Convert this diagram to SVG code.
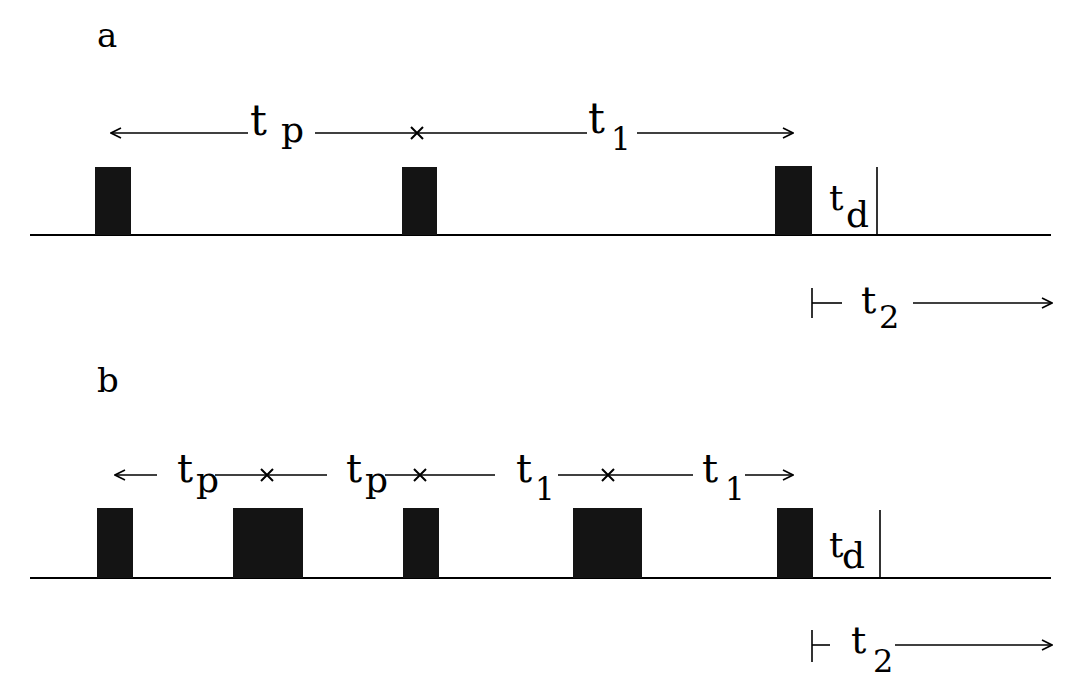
<svg xmlns="http://www.w3.org/2000/svg" width="1083" height="695" viewBox="0 0 1083 695">
<style>
.ln{stroke:#000;stroke-width:1.6;fill:none}
.x{stroke:#000;stroke-width:2;fill:none}
.base{stroke:#000;stroke-width:2;fill:none}
.pulse{fill:#141414}
.t{font-family:"DejaVu Serif","Liberation Serif",serif;fill:#000}
</style>
<defs>
<marker id="ah" viewBox="0 0 12 12" refX="11" refY="6" markerWidth="12" markerHeight="12" markerUnits="userSpaceOnUse" orient="auto-start-reverse">
<path d="M1,1 L11,6 L1,11" fill="none" stroke="#000" stroke-width="1.6"/>
</marker>
</defs>
<rect width="1083" height="695" fill="#fff"/>
<g id="panel-a">
<text class="t" x="97" y="47" font-size="34">a</text>
<line class="base" x1="30" y1="235" x2="1051" y2="235"/>
<rect id="a-pulse1" class="pulse" x="95" y="167" width="36" height="68"/>
<rect id="a-pulse2" class="pulse" x="402" y="167" width="35" height="68"/>
<rect id="a-pulse3" class="pulse" x="775" y="166" width="37" height="69"/>
<line class="ln" x1="877" y1="167" x2="877" y2="235"/>
<text class="t" x="829" y="210" font-size="36">t</text>
<text class="t" x="846" y="227" font-size="36">d</text>
</g>
<g id="connectors-a">
<line class="ln" x1="111" y1="133" x2="248" y2="133" marker-start="url(#ah)"/>
<line class="ln" x1="315" y1="133" x2="587" y2="133"/>
<line class="ln" x1="637" y1="133" x2="793" y2="133" marker-end="url(#ah)"/>
<path class="x" d="M411,127 L423,139 M411,139 L423,127"/>
<text class="t" x="250" y="135" font-size="42">t</text>
<text class="t" x="281" y="142" font-size="36">p</text>
<text class="t" x="588" y="133" font-size="42">t</text>
<text class="t" x="611" y="150" font-size="31">1</text>
<line class="ln" x1="812" y1="288" x2="812" y2="318"/>
<line class="ln" x1="812" y1="303" x2="842" y2="303"/>
<line class="ln" x1="913" y1="303" x2="1052" y2="303" marker-end="url(#ah)"/>
<text class="t" x="861" y="313" font-size="38">t</text>
<text class="t" x="879" y="328" font-size="32">2</text>
</g>
<g id="panel-b">
<text class="t" x="97" y="392" font-size="34">b</text>
<line class="base" x1="30" y1="578" x2="1051" y2="578"/>
<rect id="b-pulse1" class="pulse" x="97" y="508" width="36" height="70"/>
<rect id="b-pulse2" class="pulse" x="233" y="508" width="70" height="70"/>
<rect id="b-pulse3" class="pulse" x="403" y="508" width="36" height="70"/>
<rect id="b-pulse4" class="pulse" x="573" y="508" width="69" height="70"/>
<rect id="b-pulse5" class="pulse" x="777" y="508" width="36" height="70"/>
<line class="ln" x1="880" y1="510" x2="880" y2="578"/>
<text class="t" x="829" y="557" font-size="36">t</text>
<text class="t" x="842" y="568" font-size="36">d</text>
</g>
<g id="connectors-b">
<line class="ln" x1="115" y1="475" x2="157" y2="475" marker-start="url(#ah)"/>
<line class="ln" x1="215" y1="475" x2="327" y2="475"/>
<line class="ln" x1="385" y1="475" x2="495" y2="475"/>
<line class="ln" x1="558" y1="475" x2="693" y2="475"/>
<line class="ln" x1="745" y1="475" x2="793" y2="475" marker-end="url(#ah)"/>
<path class="x" d="M261,469 L273,481 M261,481 L273,469"/>
<path class="x" d="M414,469 L426,481 M414,481 L426,469"/>
<path class="x" d="M602,469 L614,481 M602,481 L614,469"/>
<text class="t" x="177" y="482" font-size="40">t</text>
<text class="t" x="196" y="492" font-size="36">p</text>
<text class="t" x="346" y="482" font-size="40">t</text>
<text class="t" x="365" y="492" font-size="36">p</text>
<text class="t" x="516" y="482" font-size="40">t</text>
<text class="t" x="535" y="500" font-size="31">1</text>
<text class="t" x="702" y="482" font-size="40">t</text>
<text class="t" x="725" y="500" font-size="31">1</text>
<line class="ln" x1="812" y1="630" x2="812" y2="662"/>
<line class="ln" x1="812" y1="645" x2="830" y2="645"/>
<line class="ln" x1="895" y1="645" x2="1052" y2="645" marker-end="url(#ah)"/>
<text class="t" x="851" y="653" font-size="38">t</text>
<text class="t" x="873" y="672" font-size="32">2</text>
</g>
</svg>
